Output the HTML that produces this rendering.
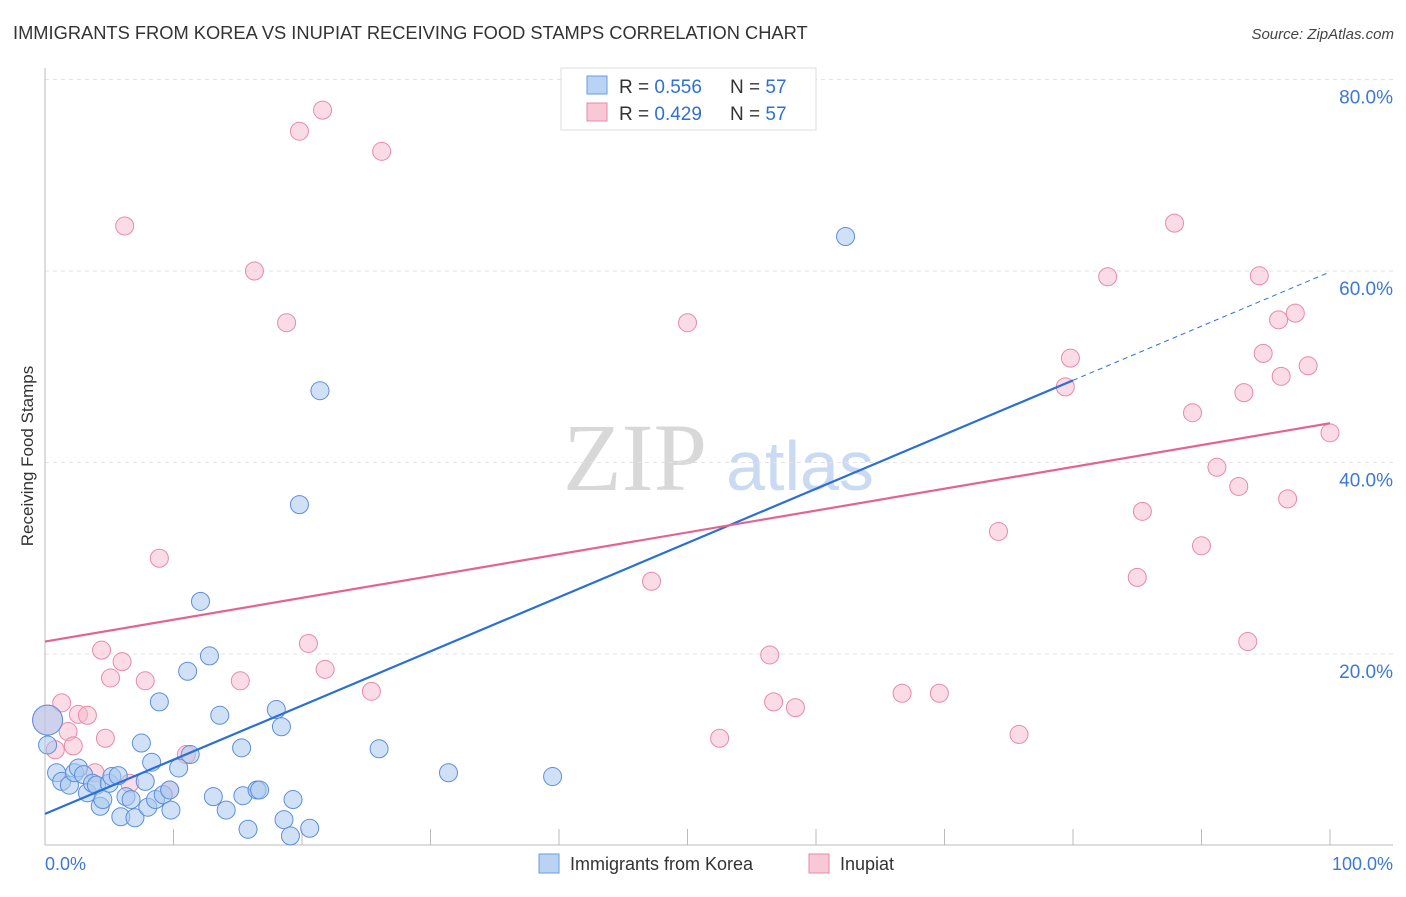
<!DOCTYPE html>
<html><head><meta charset="utf-8"><style>
body{margin:0;background:#fff;font-family:"Liberation Sans",sans-serif}
</style></head><body>
<svg id="chart" width="1406" height="892" xmlns="http://www.w3.org/2000/svg" font-family="Liberation Sans, sans-serif">
<text x="13" y="39" font-size="18.3" fill="#333">IMMIGRANTS FROM KOREA VS INUPIAT RECEIVING FOOD STAMPS CORRELATION CHART</text>
<text x="1394" y="39" font-size="15" fill="#444" font-style="italic" text-anchor="end">Source: ZipAtlas.com</text>
<g>
<text x="635" y="490" font-family="Liberation Serif, serif" font-size="96" fill="#d8d8d8" text-anchor="middle">ZIP</text>
<text x="800" y="490" font-size="70" fill="#c9daf2" text-anchor="middle">atlas</text>
</g>
<g id="grid"></g><g id="axes"></g><g id="marks"></g><g id="lines"></g>
<text transform="translate(33,456) rotate(-90)" font-size="17" fill="#333" text-anchor="middle">Receiving Food Stamps</text>
<g>
<rect x="561" y="68" width="255" height="62" fill="#fff" stroke="#ddd"/>
<rect x="587" y="76" width="20" height="18" fill="#b9d3f5" stroke="#6a9be0"/>
<rect x="587" y="103" width="20" height="18" fill="#f9c8d6" stroke="#e88aa8"/>
<text x="619" y="93" font-size="19" fill="#333">R = <tspan fill="#2f6fd6">0.556</tspan></text>
<text x="730" y="93" font-size="19" fill="#333">N = <tspan fill="#2f6fd6">57</tspan></text>
<text x="619" y="120" font-size="19" fill="#333">R = <tspan fill="#2f6fd6">0.429</tspan></text>
<text x="730" y="120" font-size="19" fill="#333">N = <tspan fill="#2f6fd6">57</tspan></text>
</g>
<g>
<rect x="539" y="854" width="20" height="19" fill="#b9d3f5" stroke="#6a9be0"/>
<text x="570" y="870" font-size="18" fill="#333">Immigrants from Korea</text>
<rect x="809" y="854" width="20" height="19" fill="#f9c8d6" stroke="#e88aa8"/>
<text x="840" y="870" font-size="18" fill="#333">Inupiat</text>
</g>
</svg>
<script>
const blueX=[0.2,0.2,0.9,1.3,1.9,2.3,2.6,3.0,3.3,3.7,4.0,4.3,4.5,5.0,5.2,5.7,5.9,6.3,6.7,7.0,7.5,7.8,8.0,8.3,8.6,9.2,9.7,9.8,10.4,11.1,11.3,8.9,12.1,12.8,13.1,13.6,14.1,15.3,15.4,15.8,16.5,16.7,18.0,18.4,18.6,19.1,19.3,19.8,20.6,21.4,26.0,31.4,39.5,62.3];
const blueY=[13.1,10.5,7.6,6.7,6.3,7.6,8.1,7.4,5.5,6.5,6.3,4.1,4.8,6.5,7.2,7.3,3.0,5.1,4.8,2.9,10.7,6.7,4.0,8.7,4.8,5.3,5.8,3.7,8.1,18.2,9.5,15.0,25.5,19.8,5.1,13.6,3.7,10.2,5.2,1.7,5.8,5.8,14.2,12.4,2.7,1.0,4.8,35.6,1.8,47.5,10.1,7.6,7.2,63.6];
const pinkX=[0.2,0.8,1.3,1.8,2.2,2.6,3.3,3.9,4.4,4.7,5.1,6.0,6.2,6.6,7.8,8.9,9.7,11.0,15.2,16.3,18.8,19.8,20.5,21.6,21.8,25.4,26.2,47.2,50.0,52.5,56.4,56.7,58.4,66.7,69.6,74.2,75.8,79.4,79.8,82.7,85.0,85.4,87.9,89.3,90.0,91.2,92.9,93.3,93.6,94.5,94.8,96.0,96.2,96.7,97.3,98.3,100.0];
const pinkY=[13.1,10.0,14.9,11.9,10.4,13.7,13.6,7.6,20.4,11.2,17.5,19.2,64.7,6.5,17.2,30.0,5.8,9.5,17.2,60.0,54.6,74.6,21.1,76.8,18.4,16.1,72.5,27.6,54.6,11.2,19.9,15.0,14.4,15.9,15.9,32.8,11.6,47.9,50.9,59.4,28.0,34.9,65.0,45.2,31.3,39.5,37.5,47.3,21.3,59.5,51.4,54.9,49.0,36.2,55.6,50.1,43.1];
const yTicks=[20,40,60,80];
const yTickLabels=["20.0%","40.0%","60.0%","80.0%"];
const blueLine=[3.3,59.9];
const pinkLine=[21.3,44.1];
const NS="http://www.w3.org/2000/svg";
const X=v=>45+v*12.85, Y=v=>845.5-v*9.575;
function mk(p,t,a){const e=document.createElementNS(NS,t);for(const k in a)e.setAttribute(k,a[k]);p.appendChild(e);return e;}
const grid=document.getElementById('grid'),axes=document.getElementById('axes'),marks=document.getElementById('marks'),lines=document.getElementById('lines');
yTicks.forEach((t,i)=>{
 const g=mk(grid,'line',{x1:45,x2:1393,y1:Y(t),y2:Y(t),stroke:'#e3e3e3','stroke-dasharray':'4,4'});
 
 
 const l=mk(axes,'text',{x:1393,y:Y(t)+24,'font-size':19,fill:'#3b78d8','text-anchor':'end'});
 l.textContent=yTickLabels[i];
 
 
});
const ax=mk(axes,'line',{x1:45,x2:45,y1:68,y2:845,stroke:'#bbb'});


const bx=mk(axes,'line',{x1:45,x2:1393,y1:845,y2:845,stroke:'#bbb'});


for(let i=0;i<=10;i++){const t=mk(axes,'line',{x1:X(i*10),x2:X(i*10),y1:829,y2:845,stroke:'#bbb'});
 
 }
const x0=mk(axes,'text',{x:45,y:870,'font-size':18,fill:'#3b78d8'});x0.textContent='0.0%';


const x1=mk(axes,'text',{x:1393,y:870,'font-size':18,fill:'#3b78d8','text-anchor':'end'});x1.textContent='100.0%';


pinkX.forEach((v,i)=>{const c=mk(marks,'circle',{cx:X(v),cy:Y(pinkY[i]),r:i==0?15:9,fill:'#f7b8cb','fill-opacity':0.5,stroke:'#e88aa8','stroke-width':1});
 
 });
blueX.forEach((v,i)=>{const c=mk(marks,'circle',{cx:X(v),cy:Y(blueY[i]),r:i==0?15:9,fill:'#a9c8f0','fill-opacity':0.55,stroke:'#5b8fdc','stroke-width':1});
 
 });
const by=x=>blueLine[0]+(blueLine[1]-blueLine[0])*x/100;
const bl=mk(lines,'line',{x1:X(0),y1:Y(by(0)),x2:X(80),y2:Y(by(80)),stroke:'#2a6fd6','stroke-width':2.2});


const bd=mk(lines,'line',{x1:X(80),y1:Y(by(80)),x2:X(100),y2:Y(by(100)),stroke:'#2a6fd6','stroke-width':1,'stroke-dasharray':'5,4'});


const pl=mk(lines,'line',{x1:X(0),y1:Y(pinkLine[0]),x2:X(100),y2:Y(pinkLine[1]),stroke:'#e3648e','stroke-width':2.2});


</script>
</body></html>
